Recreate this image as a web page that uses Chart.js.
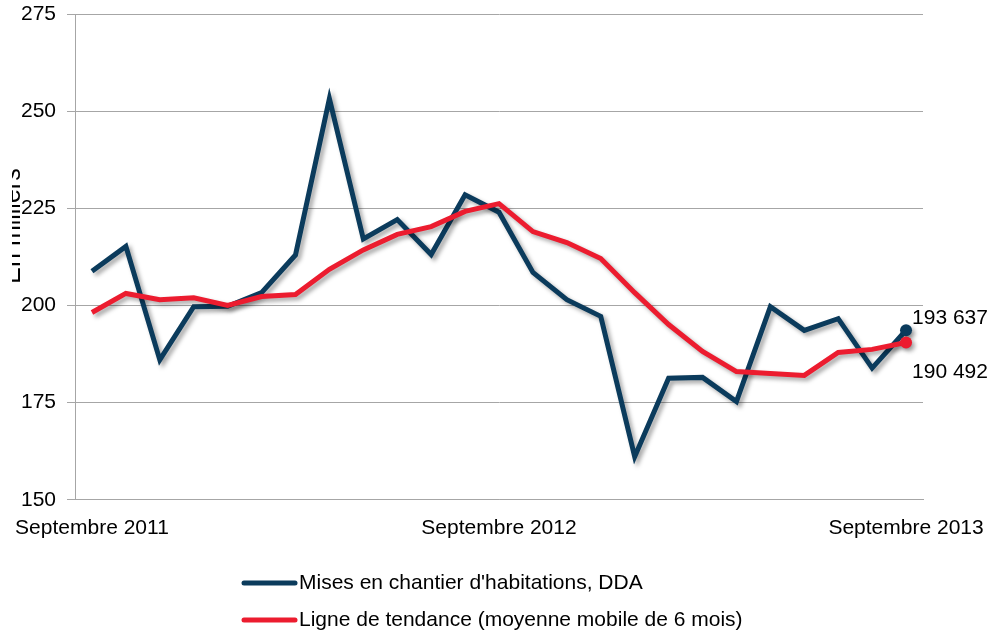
<!DOCTYPE html>
<html>
<head>
<meta charset="utf-8">
<script src="https://cdn.jsdelivr.net/npm/chart.js@4.4.0/dist/chart.umd.min.js"></script>
<style>
  body { margin: 0; background: #fff; }
  #wrap { width: 994px; height: 631px; position: relative; }
</style>
</head>
<body>
<div id="wrap"><canvas id="chart"></canvas></div>
<script>
// mois de septembre 2011 a septembre 2013
const months = [
    'Septembre 2011', 'Octobre 2011', 'Novembre 2011', 'Décembre 2011',
    'Janvier 2012', 'Février 2012', 'Mars 2012', 'Avril 2012', 'Mai 2012',
    'Juin 2012', 'Juillet 2012', 'Août 2012', 'Septembre 2012',
    'Octobre 2012', 'Novembre 2012', 'Décembre 2012', 'Janvier 2013',
    'Février 2013', 'Mars 2013', 'Avril 2013', 'Mai 2013', 'Juin 2013',
    'Juillet 2013', 'Août 2013', 'Septembre 2013'
];
const shownLabels = ['Septembre 2011', 'Septembre 2012', 'Septembre 2013'];

const starts = [
    208.8, 215.2, 186.0, 199.7, 199.8, 203.3, 213.0, 253.2, 217.1,
    222.1, 213.1, 228.5, 224.0, 208.5, 201.5, 197.2, 161.1, 181.3,
    181.5, 175.3, 199.7, 193.6, 196.6, 183.9, 193.637
];
const trend = [
    198.2, 203.1, 201.5, 202.0, 200.0, 202.3, 202.8, 209.3, 214.3,
    218.3, 220.3, 224.2, 226.2, 219.0, 216.2, 212.1, 203.3, 195.1,
    188.2, 183.0, 182.5, 182.0, 187.9, 188.7, 190.492
];
const yTicks = [150, 175, 200, 225, 250, 275];

const seriesNames = [
    "Mises en chantier d'habitations, DDA",
    'Ligne de tendance (moyenne mobile de 6 mois)'
];
const darkBlue = '#0b3b5c';
const red = '#ec1c2f';
const last = months.length - 1;
const fontFamily = 'Arial, "Liberation Sans", sans-serif';

// ombre sous les lignes
const shadowPlugin = {
    id: 'shadow',
    beforeDatasetDraw(chart) {
        const ctx = chart.ctx;
        ctx.save();
        ctx.shadowColor = 'rgba(0,0,0,0.35)';
        ctx.shadowBlur = 4;
        ctx.shadowOffsetX = 3;
        ctx.shadowOffsetY = 3;
    },
    afterDatasetDraw(chart) {
        chart.ctx.restore();
    }
};

// etiquettes, titre d'axe et legende
const extrasPlugin = {
    id: 'extras',
    afterDraw(chart) {
        const ctx = chart.ctx;
        ctx.save();
        ctx.fillStyle = '#000';
        ctx.font = '21px ' + fontFamily;
        ctx.textAlign = 'left';
        ctx.textBaseline = 'middle';
        const x = chart.scales.x.getPixelForValue(last);
        ctx.fillText('193 637', x + 6, 318);
        ctx.fillText('190 492', x + 6, 372);

        // titre d'axe, coupe a gauche comme dans l'original
        ctx.save();
        ctx.beginPath();
        ctx.rect(12, 100, 20, 250);
        ctx.clip();
        ctx.translate(20, 226);
        ctx.rotate(-Math.PI / 2);
        ctx.textAlign = 'center';
        ctx.textBaseline = 'alphabetic';
        ctx.font = '25px ' + fontFamily;
        ctx.fillText('En milliers', 0, 0);
        ctx.restore();

        const colors = [darkBlue, red];
        const rows = [583, 620];
        ctx.font = '21px ' + fontFamily;
        ctx.lineCap = 'round';
        ctx.lineWidth = 5;
        seriesNames.forEach((name, i) => {
            ctx.strokeStyle = colors[i];
            ctx.beginPath();
            ctx.moveTo(244, rows[i]);
            ctx.lineTo(295, rows[i]);
            ctx.stroke();
            ctx.fillText(name, 299, rows[i]);
        });
        ctx.restore();
    }
};

const ctx = document.getElementById('chart').getContext('2d');
new Chart(ctx, {
    type: 'line',
    data: {
        labels: months,
        datasets: [
            {
                label: seriesNames[0],
                data: starts,
                borderColor: darkBlue,
                backgroundColor: darkBlue,
                borderWidth: 5,
                tension: 0,
                order: 2,
                pointRadius: c => c.dataIndex === last ? 6 : 0,
                pointHoverRadius: 0,
                pointBorderWidth: 0
            },
            {
                label: seriesNames[1],
                data: trend,
                borderColor: red,
                backgroundColor: red,
                borderWidth: 5,
                tension: 0,
                order: 1,
                pointRadius: c => c.dataIndex === last ? 6 : 0,
                pointHoverRadius: 0,
                pointBorderWidth: 0
            }
        ]
    },
    options: {
        responsive: true,
        maintainAspectRatio: false,
        animation: false,
        layout: { autoPadding: false, padding: { left: 0, right: 71, top: 14, bottom: 74 } },
        plugins: {
            legend: { display: false },
            tooltip: { enabled: false }
        },
        scales: {
            x: {
                offset: true,
                afterFit: scale => { scale.paddingLeft = 0; scale.paddingRight = 0; },
                grid: { display: false, drawTicks: false },
                border: { display: true, color: '#a6a6a6', width: 1 },
                ticks: {
                    autoSkip: false,
                    maxRotation: 0,
                    padding: 16,
                    color: '#000',
                    font: { family: fontFamily, size: 21 },
                    callback: function(value) {
                        const l = this.getLabelForValue(value);
                        return shownLabels.includes(l) ? l : '';
                    }
                }
            },
            y: {
                min: 150,
                max: 275,
                afterBuildTicks: scale => {
                    scale.ticks = yTicks.map(v => ({ value: v }));
                },
                afterFit: scale => {
                    scale.width = 75;
                    scale.paddingTop = 0;
                    scale.paddingBottom = 0;
                },
                grid: { color: '#a6a6a6', tickLength: 8, lineWidth: 1 },
                border: { display: true, color: '#a6a6a6', width: 1 },
                ticks: {
                    padding: 11,
                    color: '#000',
                    font: { family: fontFamily, size: 21 }
                }
            }
        }
    },
    plugins: [shadowPlugin, extrasPlugin]
});
</script>
</body>
</html>
